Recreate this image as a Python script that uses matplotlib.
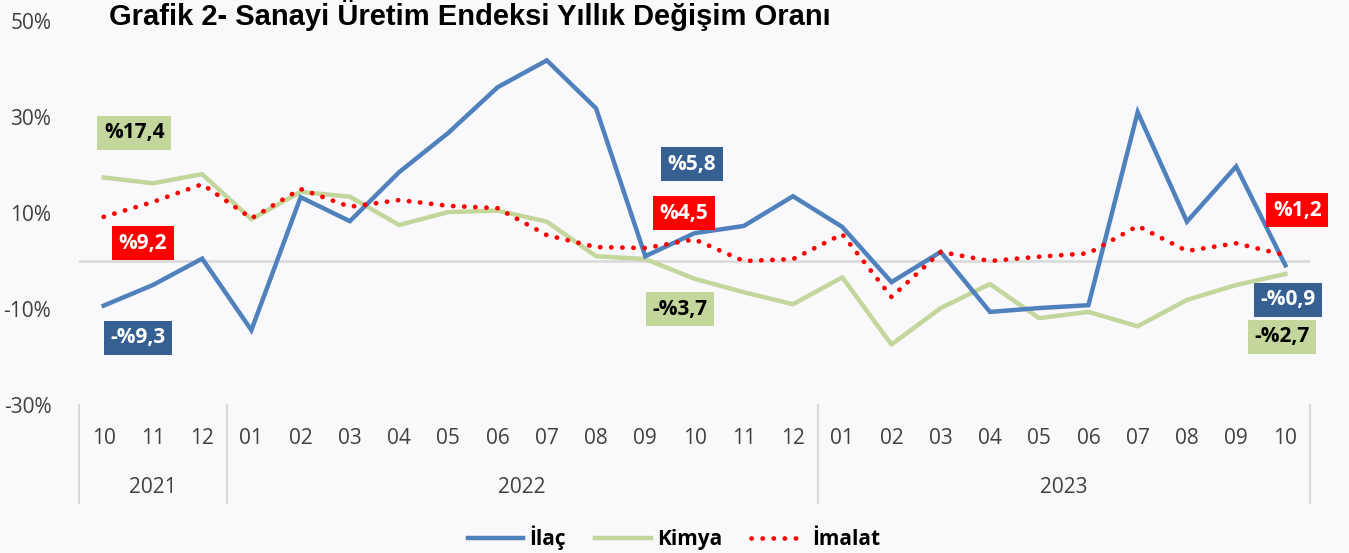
import matplotlib
matplotlib.use("Agg")
import matplotlib.pyplot as plt
import matplotlib.transforms as mtransforms

# ---------- DATA ----------
months = ["10", "11", "12",
          "01", "02", "03", "04", "05", "06", "07", "08", "09", "10", "11", "12",
          "01", "02", "03", "04", "05", "06", "07", "08", "09", "10"]
years = ["2021", "2022", "2023"]
year_spans = [(0, 3), (3, 15), (15, 25)]

ilac = [-9.3, -5.0, 0.5, -14.4, 13.3, 8.3, 18.5, 26.7, 36.2, 41.8, 31.8, 1.0,
        5.8, 7.3, 13.5, 7.1, -4.4, 1.9, -10.6, -9.8, -9.2, 31.0, 8.2, 19.7, -0.9]
kimya = [17.4, 16.2, 18.1, 8.7, 14.4, 13.4, 7.5, 10.2, 10.5, 8.2, 1.0, 0.4,
         -3.7, -6.5, -9.0, -3.4, -17.4, -9.8, -4.8, -11.9, -10.6, -13.6, -8.1, -5.0, -2.7]
imalat = [9.2, 12.3, 16.0, 8.9, 15.0, 11.3, 12.7, 11.5, 11.0, 5.4, 2.9, 2.7,
          4.5, 0.0, 0.4, 5.6, -7.5, 1.9, 0.0, 0.9, 1.6, 7.3, 2.1, 3.7, 1.2]

yticks = [-30, -10, 10, 30, 50]

BG = "#f9f8fb"
BLUE = "#4f81bd"
BLUE_BOX = "#376092"
GREEN = "#c3d69b"
RED = "#ff0000"
TXT = "#404040"
FONT = "Open Sans"

fig = plt.figure(figsize=(13.49, 5.53), dpi=100, facecolor=BG)
ax = fig.add_axes([0.0586, 0.2676, 0.9125, 0.6944])
ax.set_facecolor(BG)

x = list(range(len(months)))
ax.axhline(0, color="#d9d9d9", lw=1.8, zorder=1)
ax.plot(x, ilac, color=BLUE, lw=3.2, solid_joinstyle="miter", zorder=3, label="İlaç")
ax.plot(x, kimya, color=GREEN, lw=3.2, zorder=2, label="Kimya")
ax.plot(x, imalat, color=RED, lw=3.4, linestyle=(0, (0.05, 2.3)),
        dash_capstyle="round", zorder=4, label="İmalat")

ax.set_xlim(-0.5, len(months) - 0.5)
ax.set_ylim(-30, 50)
ax.set_yticks(yticks)
ax.set_yticklabels([f"{v}%" for v in yticks], fontsize=15, color=TXT, family=FONT)
ax.tick_params(axis="y", length=0, pad=20)
ax.set_xticks([])
for s in ax.spines.values():
    s.set_visible(False)

# ---------- CATEGORY AXIS ----------
trans = mtransforms.blended_transform_factory(ax.transData, ax.transAxes)
for i, m in enumerate(months):
    ax.text(i, -0.088, m, transform=trans, ha="center", va="center",
            fontsize=15, color=TXT, family=FONT)
for (a, b), yr in zip(year_spans, years):
    ax.text((a + b - 1) / 2, -0.216, yr, transform=trans, ha="center", va="center",
            fontsize=15, color=TXT, family=FONT)
for b in [0, 3, 15, 25]:
    ax.plot([b - 0.5, b - 0.5], [0, -0.255], transform=trans, color="#d9d9d9",
            lw=1.5, clip_on=False)

# ---------- DATA LABELS ----------
def lab(txt, xy, fc, tc):
    ax.text(xy[0], xy[1], txt, ha="center", va="center", fontsize=15,
            fontweight="bold", color=tc, family=FONT, zorder=6,
            bbox=dict(boxstyle="square,pad=0.32", fc=fc, ec="none"))

def fmt(v):
    s = f"%{abs(v):.1f}".replace(".", ",")
    return "-" + s if v < 0 else s

lab(fmt(kimya[0]), (0.62, 26.7), GREEN, "black")
lab(fmt(imalat[0]), (0.80, 3.75), RED, "white")
lab(fmt(ilac[0]), (0.70, -16.0), BLUE_BOX, "white")
lab(fmt(ilac[12]), (11.95, 20.2), BLUE_BOX, "white")
lab(fmt(imalat[12]), (11.79, 10.0), RED, "white")
lab(fmt(kimya[12]), (11.71, -10.0), GREEN, "black")
lab(fmt(imalat[-1]), (24.24, 10.6), RED, "white")
lab(fmt(ilac[-1]), (24.05, -8.1), BLUE_BOX, "white")
lab(fmt(kimya[-1]), (23.93, -15.8), GREEN, "black")

# ---------- TITLE / LEGEND ----------
fig.text(0.348, 0.972, "Grafik 2- Sanayi Üretim Endeksi Yıllık Değişim Oranı",
         ha="center", va="center", fontsize=21, fontweight="bold",
         family="Liberation Sans")

leg = fig.legend(loc="center", bbox_to_anchor=(0.5, 0.027), ncol=3, frameon=False,
                 prop={"family": FONT, "size": 15, "weight": "bold"},
                 handlelength=2.65, handletextpad=0.3, columnspacing=1.4)

fig.savefig("out.png", dpi=100, facecolor=BG)
